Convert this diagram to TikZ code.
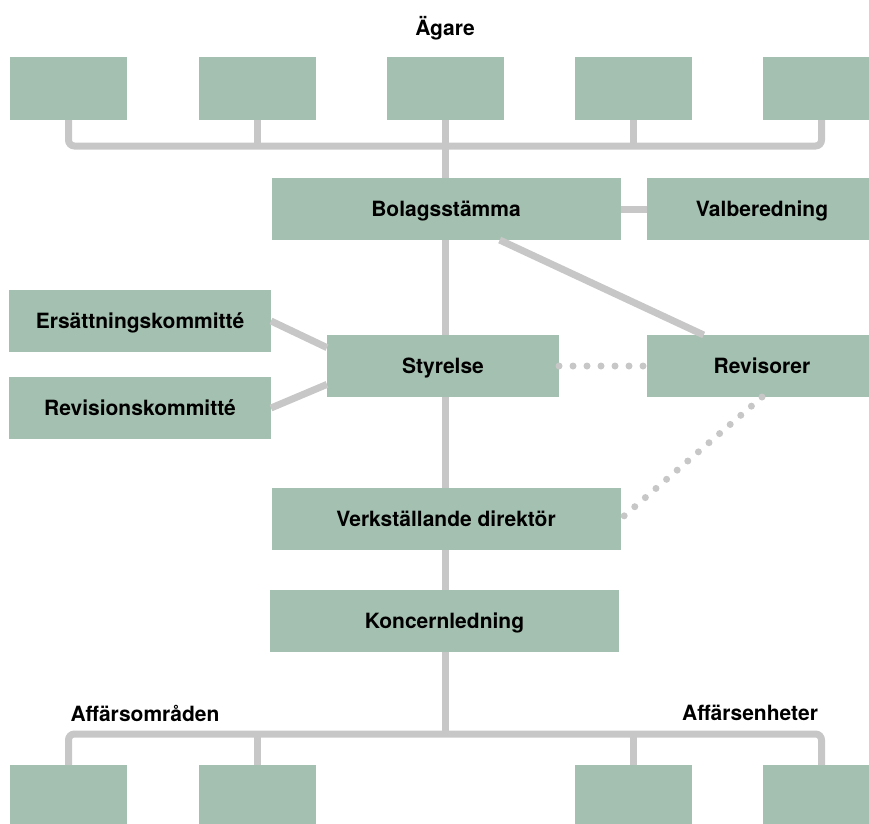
\documentclass[tikz,border=0pt]{standalone}
\usepackage{fontspec}
\setmainfont{TeX Gyre Heros}
\definecolor{boxgreen}{HTML}{A4C0B0}
\definecolor{linegray}{HTML}{C6C7C6}
\begin{document}
\begin{tikzpicture}[
    x=1pt, y=-1pt,
    box/.style={rectangle, fill=boxgreen, inner sep=0pt, outer sep=0pt, text centered, text height=15pt, text depth=0pt, font=\fontsize{21}{25}\selectfont\bfseries},
    small/.style={box, minimum width=117pt, minimum height=63pt},
    wide/.style={box, minimum width=349pt, minimum height=62pt},
    side/.style={box, minimum width=230pt, minimum height=62pt},
    label/.style={font=\fontsize{21}{25}\selectfont\bfseries},
    conn/.style={draw=linegray, line width=7pt, rounded corners=6pt},
    dots/.style={draw=linegray, line width=7pt, line cap=round, dash pattern=on 0pt off 14pt}
]
\useasboundingbox (0,0) rectangle (869,823);

% Owners
\node[label] (agare) at (445,28) {Ägare};
\node[small] (o1) at (68.5,88.5) {};
\node[small] (o2) at (257.5,88.5) {};
\node[small] (o3) at (445.5,88.5) {};
\node[small] (o4) at (633.5,88.5) {};
\node[small] (o5) at (821.5,88.5) {};
\coordinate (busT) at (445,146);

% Governance
\node[wide] (bolag) at (446,209) {Bolagsstämma};
\node[side] (valb) at (762,209) {Valberedning};
\node[wide, minimum width=232pt] (styr) at (443,366) {Styrelse};
\node[side] (revi) at (762,366) {Revisorer};
\node[box, minimum width=262pt, minimum height=62pt] (ersk) at (140,321) {Ersättningskommitté};
\node[box, minimum width=262pt, minimum height=62pt] (revk) at (140,408) {Revisionskommitté};

% Management
\node[wide] (vd) at (446,519) {Verkställande direktör};
\node[wide] (konc) at (444.5,621) {Koncernledning};

% Business units
\node[label] (omr) at (145,713) {Affärsområden};
\node[label] (enh) at (750,713) {Affärsenheter};
\node[small] (b1) at (68.5,796.5) {};
\node[small] (b2) at (257.5,796.5) {};
\node[small] (b3) at (633.5,796.5) {};
\node[small] (b4) at (821.5,796.5) {};
\coordinate (busB) at (445,734);

% Top bus
\draw[conn] (o1.south) |- (o5.south |- busT) -- (o5.south);
\draw[conn] (o2.south) -- (o2.south |- busT);
\draw[conn] (o4.south) -- (o4.south |- busT);
\draw[conn] (o3.south) -- (o3.south |- bolag.north);

% Central line
\draw[conn] (bolag.south -| busT) -- (styr.north -| busT);
\draw[conn] (styr.south -| busT) -- (vd.north -| busT);
\draw[conn] (vd.south -| busT) -- (konc.north -| busT);
\draw[conn] (konc.south -| busT) -- (busB);

% Side links
\draw[conn] (bolag.east) -- (valb.west);
\draw[conn] (bolag.-30) -- (revi.152);
\draw[conn] (ersk.east) -- (styr.171);
\draw[conn] (revk.east) -- (styr.189);
\draw[dots] (styr.east) -- (revi.west);
\draw[dots] (revi.south) -- (vd.east);

% Bottom bus
\draw[conn] (b1.north) |- (b4.north |- busB) -- (b4.north);
\draw[conn] (b2.north) -- (b2.north |- busB);
\draw[conn] (b3.north) -- (b3.north |- busB);

\end{tikzpicture}
\end{document}
